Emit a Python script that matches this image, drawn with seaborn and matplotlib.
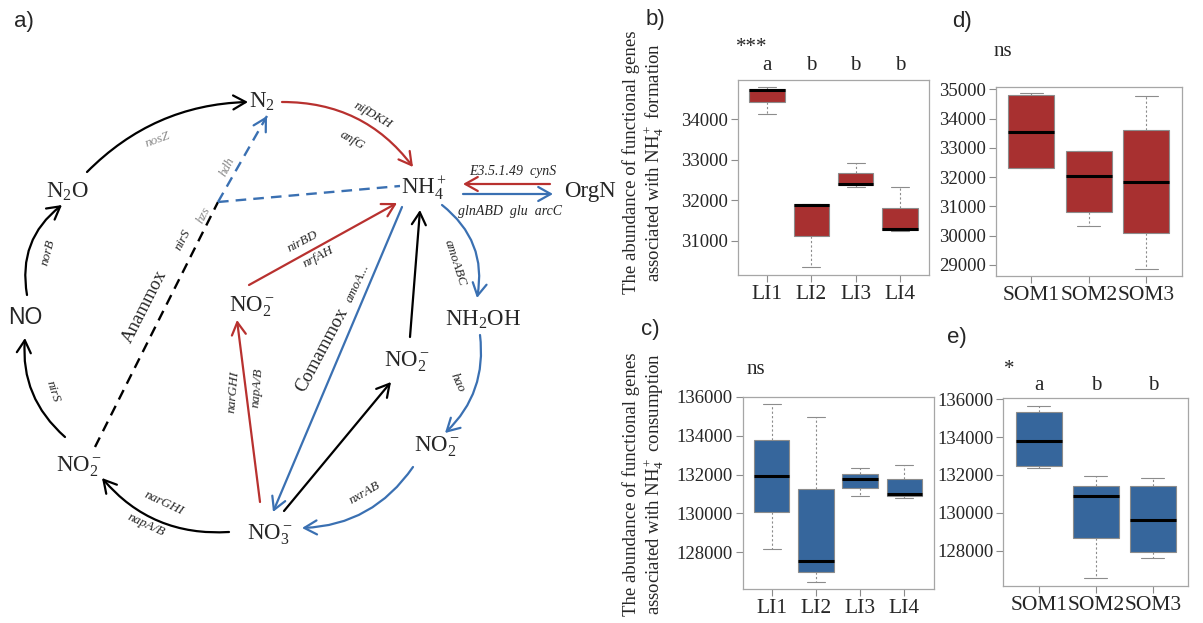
import numpy as np
import pandas as pd
import matplotlib
matplotlib.use("Agg")
import matplotlib.pyplot as plt
import seaborn as sns

# -----------------------------
# DATA (five-number summaries)
# -----------------------------
li_groups = ["LI1", "LI2", "LI3", "LI4"]
som_groups = ["SOM1", "SOM2", "SOM3"]

# b) NH4+ formation vs LI
b_min = [34130, 30340, 32330, 31240]
b_q1 = [34435, 31110, 32365, 31265]
b_med = [34730, 31880, 32410, 31300]
b_q3 = [34760, 31900, 32670, 31800]
b_max = [34790, 31900, 32930, 32320]
b_letters = ["a", "b", "b", "b"]

# d) NH4+ formation vs SOM
d_min = [32300, 30340, 28870]
d_q1 = [32320, 30800, 30080]
d_med = [33530, 32040, 31840]
d_q3 = [34800, 32880, 33610]
d_max = [34880, 32890, 34780]

# c) NH4+ consumption vs LI
c_min = [128180, 126450, 130880, 130810]
c_q1 = [130050, 126990, 131310, 130920]
c_med = [131920, 127560, 131790, 131020]
c_q3 = [133780, 131260, 132040, 131750]
c_max = [135660, 134980, 132330, 132500]

# e) NH4+ consumption vs SOM
e_min = [132370, 126540, 127600]
e_q1 = [132470, 128690, 127950]
e_med = [133800, 130910, 129620]
e_q3 = [135350, 131440, 131440]
e_max = [135660, 131970, 131860]
e_letters = ["a", "b", "b"]

W, H = 1203, 623
RED = "#a83030"
BLUE = "#36669c"
ARED = "#b8312f"
ABLUE = "#3a70b2"
EDGE = "#8c8c8c"
GREY = "#8a8a8a"

sns.set_theme(style="white")
plt.rcParams["font.family"] = ["Liberation Serif", "DejaVu Serif"]
plt.rcParams["mathtext.fontset"] = "custom"
plt.rcParams["mathtext.rm"] = "Liberation Serif"
plt.rcParams["mathtext.it"] = "Liberation Serif:italic"
plt.rcParams["mathtext.bf"] = "Liberation Serif:bold"

fig = plt.figure(figsize=(W / 100, H / 100), dpi=100)


def px_rect(left, top, right, bottom):
    return [left / W, 1 - bottom / H, (right - left) / W, (bottom - top) / H]


def ftext(x, y, s, **kw):
    fig.text(x / W, 1 - y / H, s, **kw)


def box_panel(rect, groups, mins, q1s, meds, q3s, maxs, color, ylim, yticks):
    ax = fig.add_axes(rect)
    rows = []
    for g, a, b, c, d, e in zip(groups, mins, q1s, meds, q3s, maxs):
        for v in (a, b, c, d, e):
            rows.append({"group": g, "value": v})
    df = pd.DataFrame(rows)
    sns.boxplot(data=df, x="group", y="value", ax=ax, color=color,
                saturation=1, width=0.8, whis=(0, 100), showfliers=False,
                linecolor=EDGE, linewidth=0.8,
                medianprops={"color": "black", "linewidth": 2.2},
                whiskerprops={"linestyle": (0, (2, 2))})
    n = len(groups)
    pad = 0.5 + 0.04 * n
    ax.set_xlim(-pad, n - 1 + pad)
    ax.set_ylim(*ylim)
    ax.set_yticks(yticks)
    ax.set_yticklabels([str(t) for t in yticks])
    ax.set_xlabel("")
    ax.set_ylabel("")
    for sp in ax.spines.values():
        sp.set_color("#a6a6a6")
        sp.set_linewidth(0.9)
    ax.tick_params(axis="both", direction="out", length=5, width=0.8,
                   color="#8c8c8c", left=True, bottom=True, pad=2)
    ax.tick_params(axis="x", labelsize=15.5)
    ax.tick_params(axis="y", labelsize=13.5)
    return ax


ax_b = box_panel(px_rect(737.7, 80, 929.3, 275), li_groups,
                 b_min, b_q1, b_med, b_q3, b_max, RED,
                 (30153, 34970), [31000, 32000, 33000, 34000])
ax_d = box_panel(px_rect(995.7, 86.7, 1181.7, 276), som_groups,
                 d_min, d_q1, d_med, d_q3, d_max, RED,
                 (28624, 35089), list(range(29000, 35001, 1000)))
ax_c = box_panel(px_rect(742.5, 397, 933.5, 589), li_groups,
                 c_min, c_q1, c_med, c_q3, c_max, BLUE,
                 (126106, 135933), list(range(128000, 136001, 2000)))
ax_e = box_panel(px_rect(1003.3, 398.3, 1188.3, 586), som_groups,
                 e_min, e_q1, e_med, e_q3, e_max, BLUE,
                 (126134, 136053), list(range(128000, 136001, 2000)))

# significance letters above boxes
for i, s in enumerate(b_letters):
    ax_b.text(i, 1 + 15 / 195, s, transform=ax_b.get_xaxis_transform(),
              ha="center", va="center", fontsize=15)
for i, s in enumerate(e_letters):
    ax_e.text(i, 1 + 13 / 188, s, transform=ax_e.get_xaxis_transform(),
              ha="center", va="center", fontsize=15)

ftext(752, 47, "***", ha="center", va="center", fontsize=15)
ftext(1003, 52, "ns", ha="center", va="center", fontsize=15)
ftext(756, 370, "ns", ha="center", va="center", fontsize=15)
ftext(1009, 370, "*", ha="center", va="center", fontsize=15)

# y labels
ftext(644, 162, "The abundance of functional genes\nassociated with NH$_4^+$ formation",
      rotation=90, ha="center", va="center", fontsize=13.5, multialignment="center",
      linespacing=1.15)
ftext(644, 484, "The abundance of functional genes\nassociated with NH$_4^+$ consumption",
      rotation=90, ha="center", va="center", fontsize=13.5, multialignment="center",
      linespacing=1.15)

# panel labels
for lab, x, y in [("a)", 24, 22), ("b)", 655, 20), ("d)", 962, 22),
                  ("c)", 650, 330), ("e)", 957, 337)]:
    ftext(x, y, lab, ha="center", va="center", fontsize=16,
          family=["Liberation Sans", "DejaVu Sans"])

# -----------------------------
# a) NITROGEN CYCLE SCHEMATIC (pixel layout)
# -----------------------------
ax_a = fig.add_axes([0, 0, 600 / W, 1])
ax_a.set_xlim(0, 600)
ax_a.set_ylim(623, 0)
ax_a.axis("off")

nodes = [
    ("N$_2$", 262, 102),
    ("N$_2$O", 67, 192),
    ("NH$_4^+$", 424, 188),
    ("OrgN", 590, 192),
    ("NH$_2$OH", 483, 320),
    ("NO$_2^-$", 252, 307),
    ("NO$_2^-$", 407, 362),
    ("NO$_2^-$", 437, 447),
    ("NO$_3^-$", 270, 535),
    ("NO$_2^-$", 79, 467),
]
for s, x, y in nodes:
    ax_a.text(x, y, s, ha="center", va="center", fontsize=16.5)
ax_a.text(25, 318, "NO", ha="center", va="center", fontsize=16.5,
          family=["Liberation Sans", "DejaVu Sans"])


def arrow(p0, p1, color, rad=0.0, lw=1.6, head=True):
    style = "->,head_length=0.5,head_width=0.28" if head else "-"
    ax_a.annotate("", xy=p1, xytext=p0,
                  arrowprops=dict(arrowstyle=style, color=color, lw=lw,
                                  connectionstyle=f"arc3,rad={rad}",
                                  shrinkA=0, shrinkB=0, mutation_scale=18))


def dashed(p0, p1, color, head=False):
    ax_a.plot([p0[0], p1[0]], [p0[1], p1[1]], color=color, lw=1.7,
              dashes=(4.5, 3))
    if head:
        v = np.subtract(p1, p0)
        v = v / np.hypot(*v)
        arrow(tuple(np.array(p1) - v * 6), p1, color)


def gene(x, y, s, rot, color="#262626", size=9.5):
    ax_a.text(x, y, s, rotation=rot, ha="center", va="center", style="italic",
              fontsize=size, color=color, rotation_mode="anchor")


# curved outer cycle
arrow((27, 295), (62, 205), "black", rad=-0.3)
arrow((87, 172), (248, 102), "black", rad=-0.2)
arrow((282, 102), (413, 167), ARED, rad=-0.25)
arrow((442, 205), (477, 298), ABLUE, rad=-0.3)
arrow((480, 335), (445, 433), ABLUE, rad=-0.25)
arrow((413, 467), (302, 528), ABLUE, rad=-0.25)
arrow((229, 532), (102, 478), "black", rad=-0.25)
arrow((65, 437), (25, 338), "black", rad=-0.25)

# straight links
arrow((550, 184), (463, 184), ARED)
arrow((463, 194), (553, 194), ABLUE)
arrow((249, 285), (397, 203), ARED)
arrow((260, 502), (237, 320), ARED)
arrow((402, 207), (273, 512), ABLUE)
arrow((284, 511), (391, 382), "black")
arrow((410, 337), (420, 210), "black")

# anammox
dashed((95, 447), (218, 202), "black")
dashed((218, 202), (267, 116), ABLUE, head=True)
dashed((218, 202), (400, 186), ABLUE)

# gene labels
gene(48, 252, "norB", 75)
gene(158, 140, "nosZ", 20, GREY)
gene(373, 115, "nifDKH", -30)
gene(352, 140, "anfG", -30)
gene(513, 172, "E3.5.1.49  cynS", 0, size=10)
gene(510, 212, "glnABD  glu  arcC", 0, size=10)
gene(455, 263, "amoABC", -72)
gene(457, 383, "hao", -65)
gene(365, 493, "nxrAB", 30)
gene(164, 503, "narGHI", -25)
gene(146, 525, "napA/B", -25)
gene(53, 392, "nirS", -72)
gene(183, 240, "nirS", 63)
gene(204, 215, "hzs", 63, GREY)
gene(227, 167, "hdh", 63, GREY)
gene(303, 242, "nirBD", 28)
gene(318, 257, "nrfAH", 28)
gene(233, 392, "narGHI", 85)
gene(257, 388, "napA/B", 85)
gene(358, 283, "amoA...", 65)

ax_a.text(145, 307, "Anammox", rotation=63, ha="center", va="center",
          fontsize=13.5, rotation_mode="anchor")
ax_a.text(322, 350, "Comammox", rotation=62, ha="center", va="center",
          fontsize=13.5, rotation_mode="anchor")

fig.savefig("out.png", dpi=100)
